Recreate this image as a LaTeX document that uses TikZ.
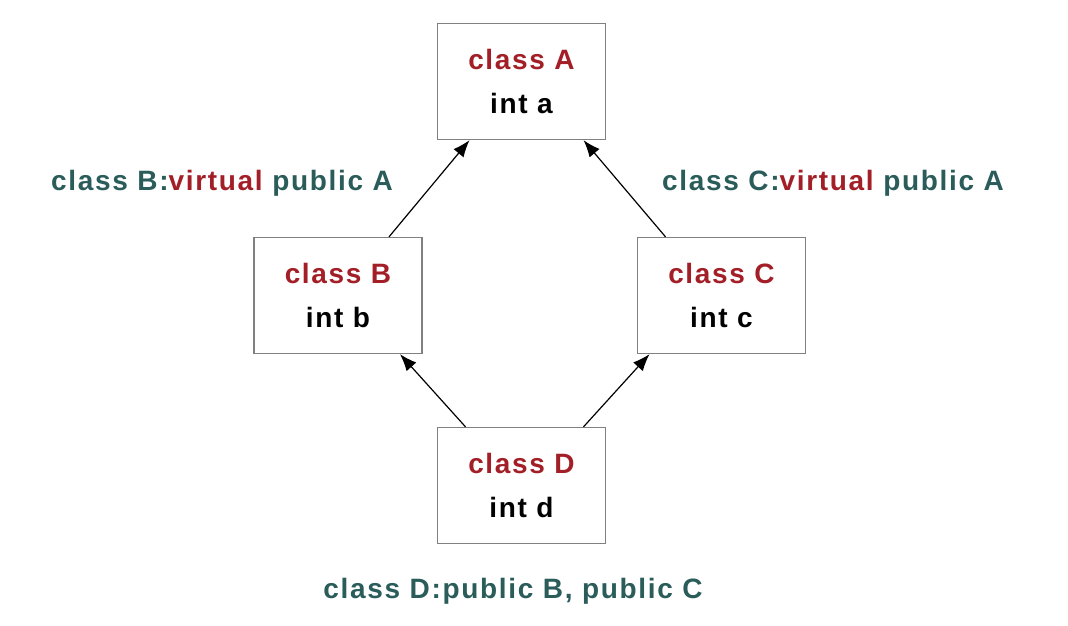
\documentclass[tikz,border=0pt]{standalone}
\usepackage{fontspec}
\setmainfont{Liberation Sans}[LetterSpace=6]
\definecolor{clsred}{HTML}{A31F27}
\definecolor{inhteal}{HTML}{2A5C5A}
\definecolor{boxgray}{HTML}{808080}
\tikzset{
  classbox/.style={draw=boxgray, line width=1.3pt, minimum width=168pt, minimum height=116pt,
    align=center, font=\fontsize{28}{44}\selectfont\bfseries},
  inherit/.style={-{Latex[length=17pt,width=13pt]}, line width=1.2pt},
  note/.style={font=\fontsize{28}{30}\selectfont\bfseries, text=inhteal}
}
\usetikzlibrary{arrows.meta}
\begin{document}
\begin{tikzpicture}[x=1pt,y=1pt]
	\useasboundingbox (0,0) rectangle (1068,626);

	% classes
	\node[classbox] (A) at (521.5,544.5) {\textcolor{clsred}{class A}\\int a};
	\node[classbox] (B) at (338,330.5) {\textcolor{clsred}{class B}\\int b};
	\node[classbox] (C) at (721.5,330.5) {\textcolor{clsred}{class C}\\int c};
	\node[classbox] (D) at (521.5,140.5) {\textcolor{clsred}{class D}\\int d};

	% inheritance
	\draw[inherit] ([xshift=51pt]B.north) -- ([xshift=-52pt]A.south);
	\draw[inherit] ([xshift=-56pt]C.north) -- ([xshift=62pt]A.south);
	\draw[inherit] ([xshift=-56pt]D.north) -- ([xshift=62pt]B.south);
	\draw[inherit] ([xshift=62pt]D.north) -- ([xshift=-72pt]C.south);

	% declarations
	\node[note] (declB) at (222,443) {class B:\textcolor{clsred}{virtual} public A};
	\node[note] (declC) at (833,443) {class C:\textcolor{clsred}{virtual} public A};
	\node[note] (declD) at (513,35) {class D:public B, public C};
\end{tikzpicture}
\end{document}
